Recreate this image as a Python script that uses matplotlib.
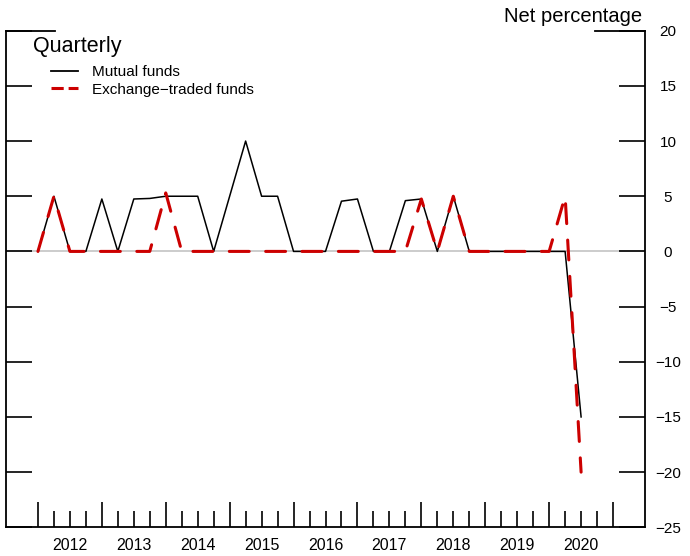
import numpy as np
import pandas as pd
import matplotlib
matplotlib.use("Agg")
import matplotlib.pyplot as plt
from matplotlib.lines import Line2D

plt.rcParams['font.family'] = ['Liberation Sans', 'DejaVu Sans']

# Quarterly survey responses, net percentage
quarters = pd.period_range('2012Q1', '2020Q3', freq='Q')
mutual_funds = [0, 5, 0, 0, 4.75, 0, 4.75, 4.8, 5, 5,
                5, 0, 5, 10, 5, 5, 0, 0, 0, 4.55,
                4.75, 0, 0, 4.6, 4.75, 0, 5, 0, 0, 0,
                0, 0, 0, 0, -15]
etfs = [0, 5, 0, 0, 0, 0, 0, 0, 5.3, 0,
        0, 0, 0, 0, 0, 0, 0, 0, 0, 0,
        0, 0, 0, 0, 4.75, 0, 5, 0, 0, 0,
        0, 0, 0, 5, -20]
year_labels = [str(y) for y in range(2012, 2021)]

red = '#CC0000'

x = np.array(quarters.year) + (np.array(quarters.quarter) - 1) / 4.0

fig = plt.figure(figsize=(6.9, 5.56), dpi=100)
ax = fig.add_axes([6 / 690, 1 - 527.3 / 556, 639 / 690, 496.6 / 556])

ax.axhline(0, color='#BEBEBE', linewidth=1.1, zorder=1)
ax.plot(x, mutual_funds, color='black', linewidth=1.1, zorder=2)
ax.plot(x, etfs, color=red, linewidth=2.2, dashes=(6.5, 5.4),
        dash_capstyle='round', zorder=3)

ax.set_xlim(2011.5, 2021.5)
ax.set_ylim(-25, 20)

# spines
ax.spines['top'].set_visible(False)
for s in ['left', 'right', 'bottom']:
    ax.spines[s].set_linewidth(1.3)
ax.plot([0, 0.077], [1, 1], color='black', linewidth=1.3,
        transform=ax.transAxes, clip_on=False)
ax.plot([0.922, 1], [1, 1], color='black', linewidth=1.3,
        transform=ax.transAxes, clip_on=False)

# x ticks: years long, quarters short, labels centred in each year
years = np.arange(2012, 2022)
ax.set_xticks(years)
ax.set_xticks([y + q for y in years[:-1] for q in (0.25, 0.5, 0.75)], minor=True)
ax.tick_params(axis='x', which='major', direction='in', length=18, width=1.2,
               labelbottom=False)
ax.tick_params(axis='x', which='minor', direction='in', length=11.2, width=1.2)

sec = ax.secondary_xaxis('bottom')
sec.set_xticks([int(y) + 0.5 for y in year_labels], year_labels)
sec.tick_params(length=0, pad=8, labelsize=11.5)
sec.spines['bottom'].set_visible(False)

# y ticks on both sides, labels on the right
ax.set_yticks(np.arange(-25, 21, 5))
ax.tick_params(axis='y', direction='in', length=18.7, width=1.2,
               left=True, right=True, labelleft=False, labelright=True,
               pad=16.6, labelsize=11)
for lab in ax.get_yticklabels():
    lab.set_horizontalalignment('center')

fig.text(642 / 690, 1 - 21.7 / 556, 'Net percentage', ha='right',
         va='baseline', fontsize=14.5)
fig.text(33.3 / 690, 1 - 51.7 / 556, 'Quarterly', ha='left',
         va='baseline', fontsize=15.5)

handles = [Line2D([], [], color='black', linewidth=1.3),
           Line2D([], [], color=red, linewidth=2.2, dashes=(4, 1.6))]
ax.legend(handles, ['Mutual funds', 'Exchange\u2212traded funds'],
          loc='upper left', bbox_to_anchor=(0.07, 0.93), frameon=False,
          fontsize=11, handlelength=1.8, handletextpad=0.87,
          labelspacing=0.2, borderpad=0, borderaxespad=0)

fig.savefig('out.png', dpi=100)
